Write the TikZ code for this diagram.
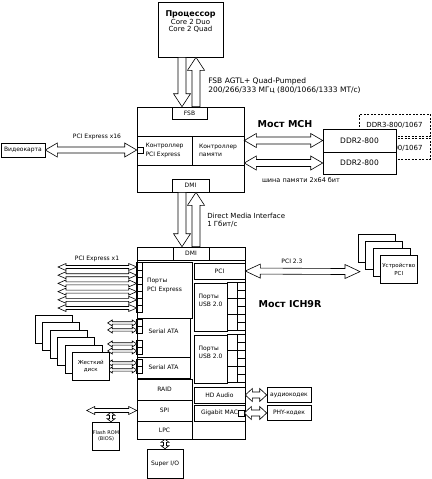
\documentclass[tikz,border=0pt]{standalone}
\usepackage{fontspec}
\setmainfont{DejaVu Sans}
\usetikzlibrary{positioning, calc}

% hollow arrow: #1 shaft half width, #2 head half width, #3 head length, #4 tail, #5 tip
\newcommand{\fatarrow}[5]{%
  \draw[fill=white] ($(#4)!#1pt!90:(#5)$) -- ($(#5)!#3pt!(#4)!#1pt!-90:(#4)$)
    -- ($(#5)!#3pt!(#4)!#2pt!-90:(#4)$) -- (#5)
    -- ($(#5)!#3pt!(#4)!#2pt!90:(#4)$) -- ($(#5)!#3pt!(#4)!#1pt!90:(#4)$)
    -- ($(#4)!#1pt!-90:(#5)$) -- cycle;}
% hollow arrow with two heads
\newcommand{\fatdarrow}[5]{%
  \draw[fill=white] (#4) -- ($(#4)!#3pt!(#5)!#2pt!90:(#5)$)
    -- ($(#4)!#3pt!(#5)!#1pt!90:(#5)$) -- ($(#5)!#3pt!(#4)!#1pt!-90:(#4)$)
    -- ($(#5)!#3pt!(#4)!#2pt!-90:(#4)$) -- (#5)
    -- ($(#5)!#3pt!(#4)!#2pt!90:(#4)$) -- ($(#5)!#3pt!(#4)!#1pt!90:(#4)$)
    -- ($(#4)!#3pt!(#5)!#1pt!-90:(#5)$) -- ($(#4)!#3pt!(#5)!#2pt!-90:(#5)$) -- cycle;}

\begin{document}
\begin{tikzpicture}[x=1pt, y=-1pt, semithick,
  every node/.style={font=\fontsize{6}{8.5}\selectfont},
  box/.style={draw, fill=white, inner sep=0pt, align=center},
  dbox/.style={draw, dash pattern=on 2pt off 1.5pt, inner sep=0pt},
  lbl/.style={inner sep=0pt, align=left}]
\useasboundingbox (0,0) rectangle (431,479);

% processor and FSB
\node (cpu) [box, minimum width=65, minimum height=55, text depth=16pt,
  font=\fontsize{7}{7.5}\selectfont] at (190.5,29.5)
  {{\bfseries\fontsize{8}{8}\selectfont Процессор}\\Core 2 Duo\\Core 2 Quad};

% north bridge
\node (mch) [box, minimum width=107, minimum height=85] at (190.5,149.5) {};
\node (fsb) [box, minimum width=35, minimum height=12] at (189.5,113) {FSB};
\node (pcictl) [box, minimum width=55, minimum height=29, align=left]
  at (164.5,150.5) {Контроллер\\PCI Express};
\node (memctl) [box, minimum width=52, minimum height=29, align=left]
  at (218,150.5) {Контроллер\\памяти};
\node (pcisq) [box, minimum width=6, minimum height=6] at (140,150) {};
\node (dmia) [box, minimum width=37, minimum height=13] at (190.5,185.5) {DMI};
\node (mchlbl) [font=\fontsize{9.5}{10}\selectfont\bfseries] at (285,124) {Мост MCH};

\coordinate (fsbdn1) at ($(cpu.south)+(-8.5,0)$);
\coordinate (fsbdn2) at (fsbdn1 |- fsb.north);
\coordinate (fsbup1) at ($(fsb.north)+(6.5,0)$);
\coordinate (fsbup2) at (fsbup1 |- cpu.south);
\fatarrow{4}{8.5}{13}{fsbdn1}{fsbdn2}
\fatarrow{4}{8.5}{13}{fsbup1}{fsbup2}
\node (fsblbl) [lbl, anchor=west, font=\fontsize{7.5}{9}\selectfont] at (208,85.5)
  {FSB AGTL+ Quad-Pumped\\200/266/333 МГц (800/1066/1333 МТ/с)};

% memory
\node (ddr3a) [dbox, minimum width=71, minimum height=22, font=\fontsize{7}{8}\selectfont]
  at (394.5,125) {DDR3-800/1067};
\node (ddr3b) [dbox, minimum width=71, minimum height=21, font=\fontsize{7}{8}\selectfont]
  at (394.5,148.5) {DDR3-800/1067};
\node (ddra) [box, minimum width=73, minimum height=23, font=\fontsize{7.5}{8}\selectfont]
  at (359.5,140.5) {DDR2-800};
\node (ddrb) [box, minimum width=73, minimum height=22, font=\fontsize{7.5}{8}\selectfont]
  at (359.5,163) {DDR2-800};
\coordinate (mema) at (mch.east |- ddra.west);
\coordinate (memb) at (mch.east |- ddrb.west);
\fatdarrow{3.5}{7}{12}{mema}{ddra.west}
\fatdarrow{3.5}{7}{12}{memb}{ddrb.west}
\node (buslbl) [lbl, font=\fontsize{6.5}{8}\selectfont] at (301,180) {шина памяти 2x64 бит};

% graphics card
\node (gpu) [box, minimum width=44, minimum height=14] at (23,150) {Видеокарта};
\fatdarrow{3}{7}{12}{gpu.east}{pcisq.west}
\node (pcielbl) [lbl] at (97,137) {PCI Express x16};

% south bridge
\node (ich) [box, minimum width=108, minimum height=192] at (191,343) {};
\node (dmib) [box, minimum width=36, minimum height=13] at (191,253.5) {DMI};
\draw (ich.west |- dmib.south) -- (ich.east |- dmib.south);
\coordinate (dmidn1) at (mch.south -| fsbdn1);
\coordinate (dmidn2) at (ich.north -| fsbdn1);
\coordinate (dmiup1) at (ich.north -| fsbup1);
\coordinate (dmiup2) at (mch.south -| fsbup1);
\fatarrow{4}{8.5}{13}{dmidn1}{dmidn2}
\fatarrow{4}{8.5}{13}{dmiup1}{dmiup2}
\node (dmilbl) [lbl, anchor=west, font=\fontsize{7}{8.5}\selectfont] at (207,220)
  {Direct Media Interface\\1 Гбит/с};

\node (pcieports) [box, minimum width=55, minimum height=56, align=left, text depth=10pt]
  at (164.5,290) {Порты\\PCI Express};
\node (sataA) [box, minimum width=53, minimum height=39, text depth=13pt]
  at (163.5,337.5) {Serial ATA};
\node (sataB) [box, minimum width=53, minimum height=21] at (163.5,367.5) {Serial ATA};
\node (raid) [box, minimum width=55, minimum height=21] at (164.5,389.5) {RAID};
\node (spi) [box, minimum width=55, minimum height=21] at (164.5,410.5) {SPI};
\node (lpc) [box, minimum width=55, minimum height=18] at (164.5,430) {LPC};

\node (pci) [box, minimum width=51, minimum height=16] at (219.5,271) {PCI};
\node (usbA) [box, minimum width=33, minimum height=48, align=left, text depth=13pt]
  at (210.5,307) {Порты\\USB 2.0};
\node (usbB) [box, minimum width=33, minimum height=48, align=left, text depth=13pt]
  at (210.5,359) {Порты\\USB 2.0};
\node (hda) [box, minimum width=51, minimum height=16] at (219.5,395) {HD Audio};
\node (gbe) [box, minimum width=51, minimum height=16] at (219.5,413) {Gigabit MAC};
\node (gbesq) [box, minimum width=6, minimum height=6] at (241,413) {};
\node (ichlbl) [font=\fontsize{9.5}{10}\selectfont\bfseries] at (290,304) {Мост ICH9R};

% ports
\foreach \u in {usbA, usbB} {
  \foreach \k in {0,1,2}
    \draw ($(\u.north east)+(0,16*\k)$) rectangle ++(10,16);
  \foreach \k in {0,...,5}
    \draw ($(\u.north east)+(10,8*\k)$) rectangle ++(8,8);
}
\foreach \k in {0,...,6}
  \draw ($(pcieports.north west)+(0,1+7.1*\k)$) rectangle ++(6,7.1);
\foreach \k in {0,...,5} {
  \coordinate (pxa\k) at (58,267+8.2*\k);
  \coordinate (pxb\k) at (ich.west |- pxa\k);
  \fatdarrow{1.5}{3.5}{8}{pxa\k}{pxb\k}
}
\node (px1lbl) [lbl] at (97,259) {PCI Express x1};

\foreach \o in {2,9,23,30,42,49} {
  \draw ($(sataA.north west)+(0,\o)$) rectangle ++(6,6.5);
  \coordinate (sa\o) at ($(sataA.north west)+(-29,\o+3.25)$);
  \coordinate (sb\o) at ($(sataA.north west)+(0,\o+3.25)$);
  \fatdarrow{1.2}{3}{4.5}{sa\o}{sb\o}
}

% hard disks
\foreach \k in {0,...,4}
  \node (hdd\k) [box, minimum width=37, minimum height=28, anchor=north west]
    at (35+7.4*\k,315+7.4*\k) {};
\node (hdd) [box, minimum width=37, minimum height=28, anchor=north west,
  font=\fontsize{5.5}{7.5}\selectfont] at (72,352) {Жесткий\\диск};

% PCI devices
\foreach \k in {0,1,2}
  \node (pcidev\k) [box, minimum width=37, minimum height=28, anchor=north west]
    at (358+7.3*\k,234+7*\k) {};
\node (pcidev) [box, minimum width=37, minimum height=28, anchor=north west,
  font=\fontsize{5.5}{7.5}\selectfont] at (380,255) {Устройство\\PCI};
\coordinate (pcitip) at ($(pcidev0.south west)+(2,9)$);
\fatdarrow{3}{7}{15}{pci.east}{pcitip}
\node (pcilbl) [lbl] at (292,261) {PCI 2.3};

% codecs
\node (acodec) [box, minimum width=44, minimum height=15] at (289,395) {аудиокодек};
\node (phy) [box, minimum width=44, minimum height=15] at (289,413) {PHY-кодек};
\fatdarrow{3}{6.5}{7}{hda.east}{acodec.west}
\fatdarrow{3}{6.5}{7}{gbesq.east}{phy.west}

% flash and super i/o
\node (flash) [box, minimum width=26, minimum height=28, font=\fontsize{5}{6.5}\selectfont]
  at (106,436) {Flash ROM\\(BIOS)};
\coordinate (spiend) at ($(spi.west)+(-50,0)$);
\fatdarrow{2}{4}{8}{spiend}{spi.west}
\coordinate (flashtop) at ($(flash.north)+(5,0)$);
\coordinate (flashbus) at ($(flashtop)+(0,-9.5)$);
\fatdarrow{1.5}{4}{3}{flashbus}{flashtop}
\node (sio) [box, minimum width=36, minimum height=29] at (165,463.5) {Super I/O};
\coordinate (siotop) at (ich.south -| sio.north);
\fatdarrow{1.5}{4}{3}{siotop}{sio.north}
\end{tikzpicture}
\end{document}
